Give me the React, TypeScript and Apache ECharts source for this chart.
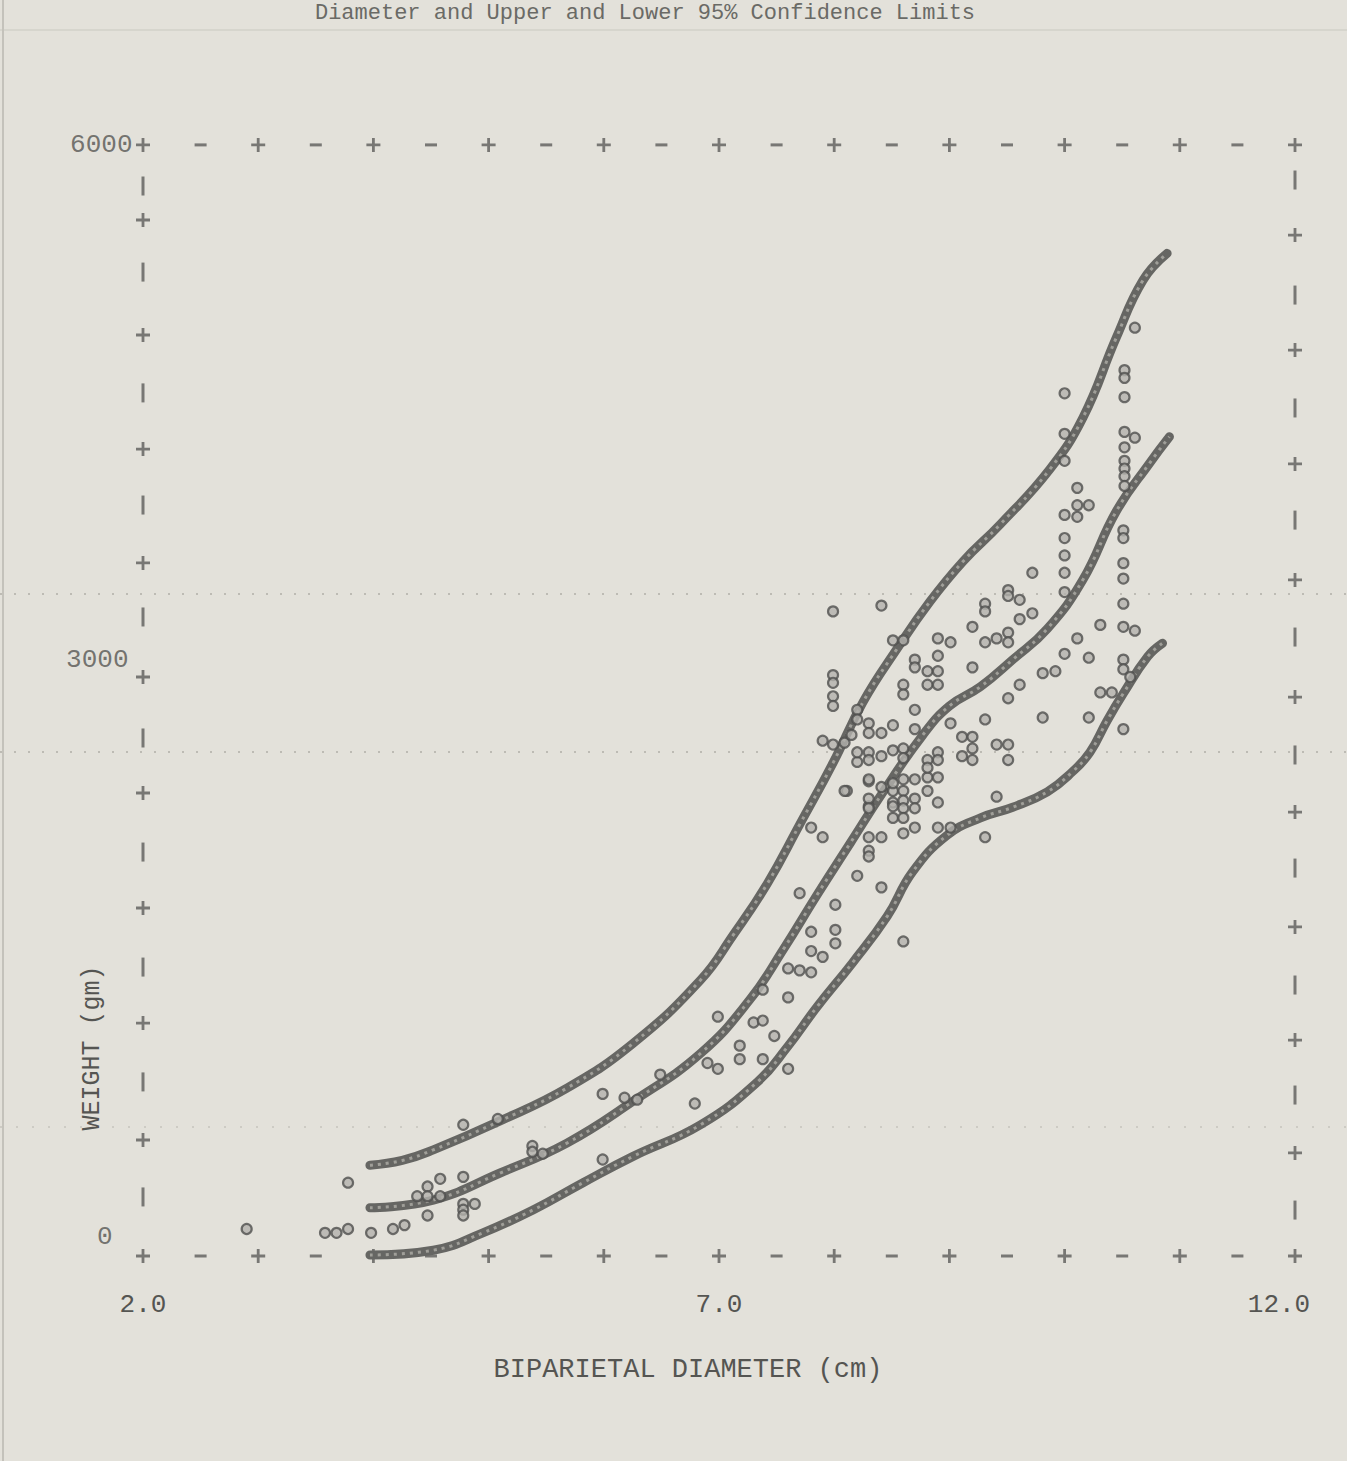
import React, { useEffect, useRef } from "react";
import * as echarts from "echarts";

// ---------- data ----------
// Upper 95% confidence limit
const upperD = [3.97, 4.25, 4.52, 5.10, 5.68, 6.25, 6.84, 7.12, 7.42, 7.70, 7.99, 8.25, 8.55, 8.83, 9.12, 9.44, 9.87, 10.16, 10.45, 10.68, 10.89];
const upperV = [470, 495, 550, 700, 870, 1100, 1430, 1660, 1930, 2235, 2555, 2870, 3150, 3390, 3600, 3790, 4075, 4345, 4760, 5055, 5195];
// Regression line
const middleD = [3.97, 4.52, 5.10, 5.68, 6.25, 6.84, 7.27, 7.56, 7.85, 8.14, 8.42, 8.77, 9.00, 9.27, 9.55, 9.85, 10.16, 10.45, 10.74, 10.91];
const middleV = [250, 290, 430, 585, 800, 1050, 1330, 1590, 1870, 2140, 2400, 2700, 2850, 2950, 3090, 3250, 3505, 3860, 4110, 4245];
// Lower 95% confidence limit
const lowerD = [3.97, 4.52, 4.95, 5.39, 5.82, 6.25, 6.84, 7.33, 7.59, 7.85, 8.16, 8.46, 8.68, 8.98, 9.27, 9.55, 9.85, 10.07, 10.22, 10.37, 10.51, 10.72, 10.85];
const lowerV = [5, 30, 120, 240, 380, 515, 680, 900, 1080, 1290, 1520, 1760, 1990, 2180, 2270, 2325, 2405, 2510, 2610, 2775, 2915, 3105, 3175];

// Observed cases: [biparietal diameter (cm), weight (gm)]
const observed: [number, number][] = [
  [2.90, 140], [3.58, 120], [3.68, 120], [3.78, 140], [3.98, 120], [4.17, 140], [4.27, 160], [3.78, 380],
  [4.38, 310], [4.47, 360], [4.47, 310], [4.58, 400], [4.58, 310], [4.47, 210], [4.78, 410], [4.78, 270],
  [4.78, 240], [4.78, 210], [4.88, 270], [4.78, 680], [5.08, 710], [5.38, 570], [5.38, 540], [5.47, 530],
  [5.99, 840], [6.18, 820], [6.29, 810], [5.99, 500], [6.49, 940], [6.79, 790],
  [6.90, 1000], [6.99, 970], [7.18, 1090], [7.18, 1020], [7.38, 1020], [7.60, 970], [6.99, 1240], [7.30, 1210],
  [7.38, 1220], [7.48, 1140], [7.60, 1340], [7.38, 1380], [7.60, 1490], [7.70, 1480], [7.80, 1470], [7.80, 1580],
  [7.90, 1550], [7.80, 1680], [8.01, 1690], [8.01, 1620], [8.01, 1820], [7.70, 1880], [8.20, 1970], [8.41, 1910],
  [7.80, 2220], [7.90, 2170], [8.30, 2170], [8.41, 2170], [8.30, 2100], [8.30, 2070], [8.11, 2410], [8.30, 2460],
  [8.30, 2330], [8.20, 2560], [8.41, 2590], [8.51, 2270], [8.51, 2350], [8.51, 2410], [8.60, 1630],
  [7.99, 3340], [8.41, 3370], [7.99, 3010], [7.99, 2970], [7.99, 2900], [7.99, 2850], [7.90, 2670], [7.99, 2650],
  [8.09, 2660], [8.20, 2830], [8.20, 2780], [8.15, 2700], [8.20, 2610], [8.30, 2760], [8.30, 2710], [8.30, 2610],
  [8.30, 2570], [8.41, 2710], [8.51, 3190], [8.60, 3190], [8.70, 3090], [8.70, 3050], [8.81, 3030], [8.81, 2960],
  [8.60, 2960], [8.60, 2910], [8.51, 2750], [8.51, 2620], [8.70, 2830], [8.70, 2730], [8.90, 3030], [8.90, 2960],
  [8.90, 3200], [9.01, 3180], [8.90, 3110], [8.60, 2630], [8.60, 2580], [8.30, 2470], [8.41, 2430], [8.51, 2450],
  [8.60, 2470], [8.70, 2470], [8.81, 2480], [8.81, 2410], [8.70, 2370], [8.60, 2410], [8.60, 2360], [8.60, 2320],
  [8.51, 2330], [8.60, 2270], [8.70, 2320], [8.70, 2220], [8.60, 2190], [8.30, 2370], [8.30, 2320], [8.09, 2410],
  [8.90, 2610], [8.90, 2570], [8.90, 2480], [8.90, 2350], [8.90, 2220], [9.01, 2220], [8.81, 2570], [8.81, 2530],
  [9.01, 2760], [9.11, 2690], [9.11, 2590], [9.20, 2690], [9.20, 2630], [9.20, 2570], [9.31, 2780], [9.41, 2650],
  [9.51, 2650], [9.51, 2570], [9.41, 2380], [9.31, 2170], [9.20, 3260], [9.31, 3380], [9.31, 3340], [9.41, 3200],
  [9.51, 3450], [9.51, 3420], [9.51, 3230], [9.51, 3180], [9.61, 3400], [9.61, 3300], [9.72, 3330], [9.72, 3540],
  [9.31, 3180], [9.20, 3050], [9.51, 2890], [9.61, 2960], [9.81, 3020], [9.92, 3030], [9.81, 2790],
  [10.00, 3540], [10.00, 3440], [10.11, 3200], [10.21, 3100], [10.31, 3270], [10.00, 3120], [10.21, 2790],
  [10.31, 2920], [10.41, 2920], [10.51, 2730], [10.51, 3590], [10.51, 3510], [10.51, 3380], [10.51, 3260],
  [10.61, 3240], [10.51, 3090], [10.51, 3040], [10.57, 3000],
  [10.61, 4810], [10.52, 4590], [10.52, 4550], [10.52, 4450], [10.00, 4470], [10.00, 4260], [10.00, 4120],
  [10.52, 4270], [10.61, 4240], [10.52, 4190], [10.52, 4120], [10.52, 4080], [10.52, 4040], [10.52, 3990],
  [10.11, 3980], [10.11, 3890], [10.21, 3890], [10.00, 3840], [10.11, 3830], [10.00, 3720], [10.00, 3630],
  [10.51, 3760], [10.51, 3720],
];

// Axis / frame marks (printer-plot characters)
const xMin = 2;
const xMax = 12;
const yMin = 0;
const yMax = 6000;
const xTickValues = [2, 7, 12];
const rowPlusX = [2, 3, 4, 5, 6, 7, 8, 9, 10, 11, 12];
const rowDashX = [2.5, 3.5, 4.5, 5.5, 6.5, 7.5, 8.5, 9.5, 10.5, 11.5];
const topRowV = 5757;
const leftPlusV = [601, 1207, 1803, 2399, 3000, 3591, 4181, 4772, 5368];
const leftBarV = [306, 902, 1497, 2093, 2684, 3311, 3891, 4472, 5098, 5544];
const rightPlusV = [534, 1119, 1705, 2300, 2896, 3503, 4104, 4694, 5290];
const rightBarV = [238, 834, 1404, 2010, 2596, 3207, 3813, 4394, 4979, 5575];
const yLabelV = [0, 3000, topRowV];
const yLabelText = ["0", "3000", "6000"];

const titleText = "Diameter and Upper and Lower 95% Confidence Limits";
const xName = "BIPARIETAL DIAMETER (cm)";
const yName = "WEIGHT (gm)";

const FONT = "'Liberation Mono', 'DejaVu Sans Mono', monospace";
const INK = "#555552";
const PAPER = "#e3e1da";

const zip = (a: number[], b: number[]) => a.map((v, i) => [v, b[i]]);

export default function App() {
  const ref = useRef<HTMLDivElement>(null);
  useEffect(() => {
    if (!ref.current) return;
    const chart = echarts.init(ref.current, null, { renderer: "svg" });

    const plusPath = "path://M4,0H6V4H10V6H6V10H4V6H0V4H4Z";
    const markSeries = (data: number[][], kind: "plus" | "dash" | "bar") => ({
      type: "scatter",
      silent: true,
      symbol: kind === "plus" ? plusPath : "rect",
      symbolSize: kind === "plus" ? 14 : kind === "dash" ? [12, 3] : [3, 19],
      itemStyle: { color: "#5c5c5a" },
      data,
      z: 1,
    });

    const topPlus = rowPlusX.map((x) => [x, topRowV]);
    const botPlus = rowPlusX.map((x) => [x, 0]);
    const topDash = rowDashX.map((x) => [x, topRowV]);
    const botDash = rowDashX.map((x) => [x, 0]);
    const leftPlus = leftPlusV.map((v) => [xMin, v]);
    const leftBar = leftBarV.map((v) => [xMin, v]);
    const rightPlus = rightPlusV.map((v) => [xMax, v]);
    const rightBar = rightBarV.map((v) => [xMax, v]);

    const labelPos: Record<string, { distance: number; dy: number }> = {
      "0": { distance: 30, dy: -19 },
      "3000": { distance: 14, dy: -17 },
      "6000": { distance: 10, dy: 0 },
    };

    const curve = (d: number[], v: number[]) => [
      {
        type: "line",
        data: zip(d, v),
        smooth: 0.45,
        symbol: "none",
        silent: true,
        lineStyle: { width: 9, color: "#666663", cap: "round" },
        z: 3,
      },
      {
        type: "line",
        data: zip(d, v),
        smooth: 0.45,
        symbol: "none",
        silent: true,
        lineStyle: { width: 3, color: "#a09f99", type: [3, 5] },
        z: 4,
      },
    ];

    chart.setOption({
      animation: false,
      backgroundColor: PAPER,
      grid: { left: 143, right: 52, top: 98, bottom: 205 },
      xAxis: {
        type: "value",
        min: xMin,
        max: xMax,
        interval: 5,
        axisLine: { show: false },
        axisTick: { show: false },
        splitLine: { show: false },
        axisLabel: {
          margin: 36,
          fontFamily: FONT,
          fontSize: 26,
          color: INK,
          formatter: (v: number) =>
            xTickValues.includes(v) ? (v === xMax ? `{r|${v.toFixed(1)}}` : v.toFixed(1)) : "",
          rich: {
            r: { fontFamily: FONT, fontSize: 26, color: INK, padding: [0, 32, 0, 0] },
          },
        },
      },
      yAxis: {
        type: "value",
        min: yMin,
        max: yMax,
        axisLine: { show: false },
        axisTick: { show: false },
        splitLine: { show: false },
        axisLabel: { show: false },
      },
      graphic: [
        { type: "line", silent: true, shape: { x1: 0, y1: 30, x2: 1347, y2: 30 }, style: { stroke: "#d2d0c9", lineWidth: 1.5 } },
        { type: "line", silent: true, shape: { x1: 3, y1: 0, x2: 3, y2: 1461 }, style: { stroke: "#c4c2bb", lineWidth: 2 } },
        { type: "line", silent: true, shape: { x1: 0, y1: 594, x2: 1347, y2: 594 }, style: { stroke: "#bdbbb4", lineWidth: 2, lineDash: [2, 12] } },
        { type: "line", silent: true, shape: { x1: 0, y1: 752, x2: 1347, y2: 752 }, style: { stroke: "#bdbbb4", lineWidth: 2, lineDash: [2, 12] } },
        { type: "line", silent: true, shape: { x1: 0, y1: 1127, x2: 1347, y2: 1127 }, style: { stroke: "#cdcbc4", lineWidth: 2, lineDash: [2, 14] } },
        {
          type: "text",
          x: 645,
          y: 2,
          style: { text: titleText, font: `22px ${FONT}`, fill: "#6a6a66", align: "center", verticalAlign: "top" },
        },
        {
          type: "text",
          x: 688,
          y: 1370,
          style: { text: xName, font: `27px ${FONT}`, fill: INK, align: "center", verticalAlign: "middle" },
        },
        {
          type: "text",
          x: 92,
          y: 1048,
          rotation: Math.PI / 2,
          style: { text: yName, font: `25px ${FONT}`, fill: INK, align: "center", verticalAlign: "middle" },
        },
      ],
      series: [
        markSeries([...topPlus, ...botPlus, ...leftPlus, ...rightPlus], "plus"),
        markSeries([...topDash, ...botDash], "dash"),
        markSeries([...leftBar, ...rightBar], "bar"),
        {
          type: "scatter",
          silent: true,
          symbolSize: 1,
          itemStyle: { color: "rgba(0,0,0,0)" },
          data: yLabelV.map((v, i) => ({
            value: [xMin, v],
            name: yLabelText[i],
            label: {
              distance: labelPos[yLabelText[i]].distance,
              offset: [0, labelPos[yLabelText[i]].dy],
            },
          })),
          label: {
            show: true,
            position: "left",
            formatter: (p: any) => p.name,
            fontFamily: FONT,
            fontSize: 26,
            color: INK,
          },
          z: 2,
        },
        ...curve(upperD, upperV),
        ...curve(middleD, middleV),
        ...curve(lowerD, lowerV),
        {
          type: "scatter",
          silent: true,
          symbol: "circle",
          symbolSize: 10,
          itemStyle: { color: "#b3b2ac", borderColor: "#4f4f4d", borderWidth: 2.2 },
          data: observed,
          z: 5,
        },
      ],
    });
    return () => chart.dispose();
  }, []);

  return (
    <div
      ref={ref}
      style={{ position: "absolute", left: 0, top: 0, width: 1347, height: 1461, background: PAPER }}
    />
  );
}
